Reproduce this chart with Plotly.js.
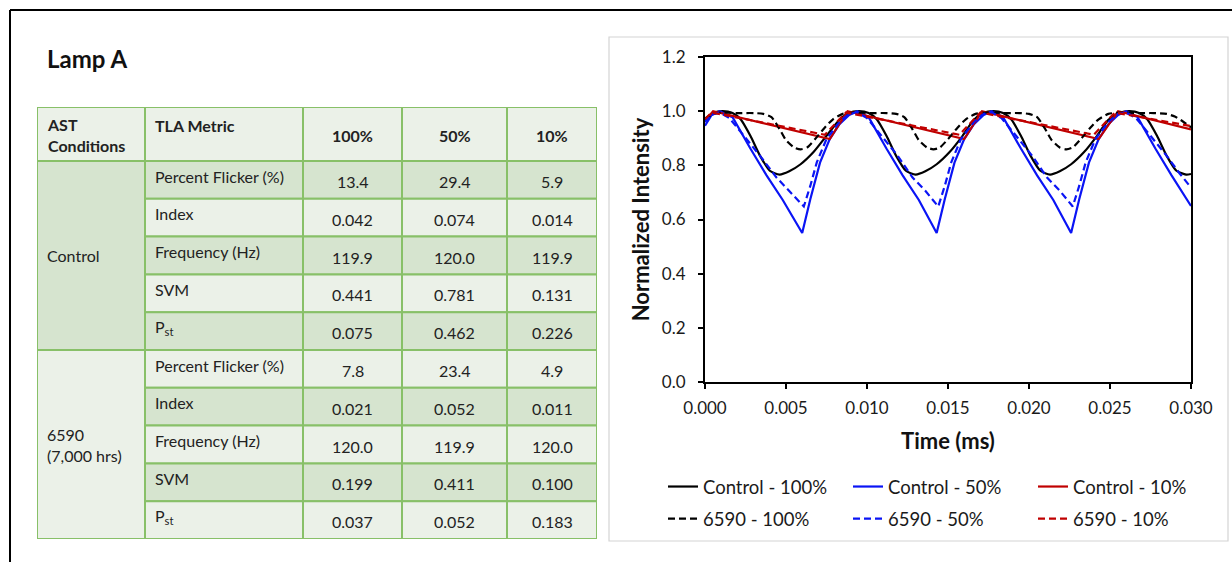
<!DOCTYPE html>
<html>
<head>
<meta charset="utf-8">
<script src="https://cdn.plot.ly/plotly-3.0.1.min.js"></script>
<style>
  html, body { margin: 0; padding: 0; background: #fff; }
  #chart { width: 1232px; height: 562px; }
</style>
</head>
<body>
<div id="chart"></div>
<script>
// ---------------- TLA metrics table ----------------
const conditions = ['Control', '6590<br>(7,000 hrs)'];
const metrics = ['Percent Flicker (%)', 'Index', 'Frequency (Hz)', 'SVM', 'P<sub>st</sub>'];
const dimLevels = ['100%', '50%', '10%'];

const control100 = ['13.4', '0.042', '119.9', '0.441', '0.075'];
const control50  = ['29.4', '0.074', '120.0', '0.781', '0.462'];
const control10  = ['5.9',  '0.014', '119.9', '0.131', '0.226'];
const aged100    = ['7.8',  '0.021', '120.0', '0.199', '0.037'];
const aged50     = ['23.4', '0.052', '119.9', '0.411', '0.052'];
const aged10     = ['4.9',  '0.011', '120.0', '0.100', '0.183'];

// ---------------- normalized light output waveforms ----------------
const tControl100 = [0.0000, 0.0005, 0.0011, 0.0017, 0.0022, 0.0028, 0.0034, 0.0040, 0.0046, 0.0052, 0.0059, 0.0067, 0.0075, 0.0083, 0.0089,
  0.0095, 0.0101, 0.0106, 0.0112, 0.0118, 0.0124, 0.0130, 0.0136, 0.0143, 0.0151, 0.0159, 0.0166, 0.0172,
  0.0178, 0.0184, 0.0189, 0.0195, 0.0201, 0.0207, 0.0213, 0.0219, 0.0226, 0.0234, 0.0242, 0.0249, 0.0256,
  0.0262, 0.0268, 0.0273, 0.0279, 0.0285, 0.0291, 0.0297, 0.0300];
const vControl100 = [0.972, 0.993, 1.000, 0.993, 0.970, 0.909, 0.835, 0.780, 0.766, 0.778, 0.804, 0.849, 0.909, 0.968, 0.994,
  1.000, 0.993, 0.970, 0.909, 0.835, 0.780, 0.766, 0.778, 0.804, 0.849, 0.909, 0.968, 0.994,
  1.000, 0.993, 0.970, 0.909, 0.835, 0.780, 0.766, 0.778, 0.804, 0.849, 0.909, 0.968, 0.994,
  1.000, 0.993, 0.970, 0.909, 0.835, 0.780, 0.766, 0.768];

const tControl50 = [0.0000, 0.0004, 0.0009, 0.0017, 0.0028, 0.0038, 0.0048, 0.0060, 0.0065, 0.0071, 0.0077, 0.0083, 0.0089,
  0.0094, 0.0101, 0.0112, 0.0122, 0.0132, 0.0143, 0.0148, 0.0154, 0.0160, 0.0166, 0.0172,
  0.0177, 0.0184, 0.0195, 0.0205, 0.0215, 0.0226, 0.0231, 0.0237, 0.0243, 0.0249, 0.0255,
  0.0260, 0.0267, 0.0278, 0.0288, 0.0300];
const vControl50 = [0.946, 0.985, 1.000, 0.978, 0.862, 0.763, 0.672, 0.550, 0.675, 0.810, 0.897, 0.952, 0.986,
  1.000, 0.978, 0.862, 0.763, 0.672, 0.550, 0.675, 0.810, 0.897, 0.952, 0.986,
  1.000, 0.978, 0.862, 0.763, 0.672, 0.550, 0.675, 0.810, 0.897, 0.952, 0.986,
  1.000, 0.978, 0.862, 0.763, 0.650];

const tControl10 = [0.0000, 0.0005, 0.0077, 0.0088, 0.0160, 0.0171, 0.0243, 0.0255, 0.0300];
const vControl10 = [0.965, 1.000, 0.897, 1.000, 0.897, 1.000, 0.897, 1.000, 0.933];

const tAged100 = [0.0000, 0.0005, 0.0010, 0.0020, 0.0030, 0.0036, 0.0041, 0.0046, 0.0050, 0.0055, 0.0059, 0.0063, 0.0068, 0.0074, 0.0079, 0.0085,
  0.0092, 0.0102, 0.0112, 0.0118, 0.0123, 0.0128, 0.0132, 0.0137, 0.0141, 0.0145, 0.0150, 0.0156, 0.0161, 0.0167,
  0.0174, 0.0184, 0.0194, 0.0200, 0.0205, 0.0210, 0.0214, 0.0219, 0.0223, 0.0227, 0.0232, 0.0238, 0.0243, 0.0249,
  0.0257, 0.0267, 0.0277, 0.0285, 0.0290, 0.0295, 0.0300];
const vAged100 = [0.965, 0.990, 0.995, 0.993, 0.993, 0.990, 0.978, 0.934, 0.893, 0.866, 0.859, 0.866, 0.897, 0.940, 0.970, 0.990,
  0.995, 0.993, 0.993, 0.990, 0.978, 0.934, 0.893, 0.866, 0.859, 0.866, 0.897, 0.940, 0.970, 0.990,
  0.995, 0.993, 0.993, 0.990, 0.978, 0.934, 0.893, 0.866, 0.859, 0.866, 0.897, 0.940, 0.970, 0.990,
  0.995, 0.993, 0.993, 0.990, 0.980, 0.962, 0.940];

const tAged50 = [0.0000, 0.0004, 0.0009, 0.0015, 0.0024, 0.0034, 0.0044, 0.0052, 0.0061, 0.0065, 0.0069, 0.0075, 0.0083, 0.0089,
  0.0094, 0.0100, 0.0109, 0.0119, 0.0128, 0.0136, 0.0144, 0.0148, 0.0152, 0.0158, 0.0166, 0.0172,
  0.0177, 0.0183, 0.0192, 0.0202, 0.0211, 0.0219, 0.0227, 0.0231, 0.0235, 0.0241, 0.0249, 0.0255,
  0.0260, 0.0266, 0.0275, 0.0285, 0.0293, 0.0300];
const vAged50 = [0.960, 0.988, 0.995, 0.975, 0.909, 0.835, 0.756, 0.706, 0.648, 0.724, 0.811, 0.897, 0.960, 0.990,
  0.995, 0.975, 0.909, 0.835, 0.756, 0.706, 0.648, 0.724, 0.811, 0.897, 0.960, 0.990,
  0.995, 0.975, 0.909, 0.835, 0.756, 0.706, 0.648, 0.724, 0.811, 0.897, 0.960, 0.990,
  0.995, 0.975, 0.909, 0.835, 0.770, 0.718];

const tAged10 = [0.0000, 0.0004, 0.0074, 0.0087, 0.0157, 0.0170, 0.0240, 0.0253, 0.0300];
const vAged10 = [0.970, 0.995, 0.913, 0.995, 0.913, 0.995, 0.913, 0.995, 0.945];

const seriesNames = ['Control - 100%', 'Control - 50%', 'Control - 10%', '6590 - 100%', '6590 - 50%', '6590 - 10%'];
const xTickVals = [0, 0.005, 0.010, 0.015, 0.020, 0.025, 0.030];
const yTickVals = [0, 0.2, 0.4, 0.6, 0.8, 1.0, 1.2];

// ---------------- styling ----------------
const W = 1232, H = 562;
const FONT = 'Lato, "Open Sans", sans-serif';
const BLACK = '#000000', BLUE = '#0A14F5', RED = '#C00000';
const GREEN_LINE = '#88C068', ROW_DARK = '#D6E4CF', ROW_LIGHT = '#EBF1E8';
const DASH = '7px,4px';
const LW = 2.2;
const TABLE_FONT = 16;

const px = v => v / W;          // horizontal pixel -> paper
const py = v => 1 - v / H;      // vertical pixel -> paper

function wave(x, y, name, color, dash, legend, shape) {
  return {
    type: 'scatter', mode: 'lines', x: x, y: y, name: name,
    xaxis: 'x', yaxis: 'y', legend: legend,
    line: { color: color, width: LW, dash: dash, shape: shape || 'linear', smoothing: 0.6 },
    hoverinfo: 'x+y+name'
  };
}

const traces = [
  wave(tControl100, vControl100, seriesNames[0], BLACK, 'solid', 'legend', 'spline'),
  wave(tControl50,  vControl50,  seriesNames[1], BLUE,  'solid', 'legend'),
  wave(tControl10,  vControl10,  seriesNames[2], RED,   'solid', 'legend'),
  wave(tAged100,    vAged100,    seriesNames[3], BLACK, DASH,    'legend2', 'spline'),
  wave(tAged50,     vAged50,     seriesNames[4], BLUE,  DASH,    'legend2'),
  wave(tAged10,     vAged10,     seriesNames[5], RED,   DASH,    'legend2')
];

// table geometry (pixels from the table's top-left corner)
const colEdges = [0, 108, 266, 365, 470, 560];
const headerH = 54;
const rowH = 37.8;
const tableW = colEdges[colEdges.length - 1];
const tableH = headerH + rowH * metrics.length * conditions.length;

const shapes = [];
const annotations = [];
const cellLine = { color: GREEN_LINE, width: 2 };

function cell(x0, x1, y0, y1, fill) {
  shapes.push({ type: 'rect', xref: 'x2', yref: 'y2', x0: x0, x1: x1, y0: y0, y1: y1,
    fillcolor: fill, line: cellLine, layer: 'above' });
}
function text(str, x, y, anchor, bold) {
  annotations.push({ xref: 'x2', yref: 'y2', x: x, y: y, xanchor: anchor, yanchor: 'middle',
    text: bold ? '<b>' + str + '</b>' : str, showarrow: false, align: 'left',
    font: { family: FONT, size: TABLE_FONT, color: '#222222' } });
}

// header row
for (let c = 0; c < colEdges.length - 1; c++) cell(colEdges[c], colEdges[c + 1], 0, headerH, ROW_LIGHT);
text('AST<br>Conditions', colEdges[0] + 8, 28, 'left', true);
text('TLA Metric', colEdges[1] + 8, 18, 'left', true);
dimLevels.forEach((lv, i) => text(lv, (colEdges[i + 2] + colEdges[i + 3]) / 2, 28, 'center', true));

// body rows
const groupValues = [[control100, control50, control10], [aged100, aged50, aged10]];
conditions.forEach((cond, g) => {
  const gTop = headerH + g * metrics.length * rowH;
  const gBot = gTop + metrics.length * rowH;
  cell(colEdges[0], colEdges[1], gTop, gBot, g === 0 ? ROW_DARK : ROW_LIGHT);
  text(cond, colEdges[0] + 8, (gTop + gBot) / 2, 'left', false);
  metrics.forEach((m, r) => {
    const idx = g * metrics.length + r;
    const top = gTop + r * rowH;
    const fill = idx % 2 === 0 ? ROW_DARK : ROW_LIGHT;
    for (let c = 1; c < colEdges.length - 1; c++) cell(colEdges[c], colEdges[c + 1], top, top + rowH, fill);
    text(m, colEdges[1] + 8, top + 15, 'left', false);
    groupValues[g].forEach((vals, k) => {
      text(vals[r], (colEdges[k + 2] + colEdges[k + 3]) / 2, top + rowH / 2 + 1.5, 'center', false);
    });
  });
});

// page frame and chart panel
shapes.push({ type: 'line', xref: 'paper', yref: 'paper', x0: px(10), x1: 1, y0: py(10), y1: py(10),
  line: { color: '#000', width: 2 } });
shapes.push({ type: 'line', xref: 'paper', yref: 'paper', x0: px(10), x1: px(10), y0: py(10), y1: 0,
  line: { color: '#000', width: 2 } });
shapes.push({ type: 'rect', xref: 'paper', yref: 'paper', x0: px(609), x1: px(1228), y0: py(37), y1: py(541),
  line: { color: '#D4D4D4', width: 1.2 }, fillcolor: 'rgba(0,0,0,0)', layer: 'below' });

annotations.push({ xref: 'paper', yref: 'paper', x: px(45), y: py(58), xanchor: 'left', yanchor: 'middle',
  text: '<b>Lamp A</b>', showarrow: false, font: { family: FONT, size: 24, color: '#111' } });

const tickFont = { family: FONT, size: 17, color: '#1a1a1a' };
const titleFont = { family: FONT, size: 22, color: '#111' };
const legendBase = {
  orientation: 'h', xanchor: 'left', yanchor: 'middle', x: px(663),
  entrywidth: 140, entrywidthmode: 'pixels', itemwidth: 30,
  font: { family: FONT, size: 18.5, color: '#1a1a1a' }, bgcolor: 'rgba(0,0,0,0)', traceorder: 'normal'
};

const layout = {
  width: W, height: H,
  margin: { l: 0, r: 0, t: 0, b: 0, autoexpand: false },
  paper_bgcolor: '#ffffff', plot_bgcolor: 'rgba(0,0,0,0)',
  showlegend: true,
  font: { family: FONT },
  xaxis: {
    domain: [px(705), px(1191)], anchor: 'y', range: [0, 0.03], autorange: false,
    tickvals: xTickVals, tickformat: '.3f', ticks: 'outside', ticklen: 5, tickwidth: 1.5, tickcolor: '#000',
    ticklabelstandoff: 5,
    showline: true, linecolor: '#000', linewidth: 2, mirror: true, automargin: false,
    showgrid: false, zeroline: false, tickfont: tickFont,
    title: { text: '<b>Time (ms)</b>', font: titleFont, standoff: 16 }
  },
  yaxis: {
    domain: [py(382), py(57)], anchor: 'x', range: [0, 1.2], autorange: false,
    tickvals: yTickVals, tickformat: '.1f', ticks: 'outside', ticklen: 5, tickwidth: 1.5, tickcolor: '#000',
    ticklabelstandoff: 9,
    showline: true, linecolor: '#000', linewidth: 2, mirror: true, automargin: false,
    showgrid: false, zeroline: false, tickfont: tickFont,
    title: { text: '<b>Normalized Intensity</b>', font: titleFont, standoff: 6 }
  },
  xaxis2: {
    domain: [px(37), px(37 + tableW)], anchor: 'y2', range: [0, tableW], autorange: false,
    visible: false, fixedrange: true
  },
  yaxis2: {
    domain: [py(107 + tableH), py(107)], anchor: 'x2', range: [tableH, 0], autorange: false,
    visible: false, fixedrange: true
  },
  legend: Object.assign({}, legendBase, { y: py(487) }),
  legend2: Object.assign({}, legendBase, { y: py(519) }),
  shapes: shapes,
  annotations: annotations
};

Plotly.newPlot('chart', traces, layout, { displayModeBar: false, staticPlot: false });
</script>
</body>
</html>
